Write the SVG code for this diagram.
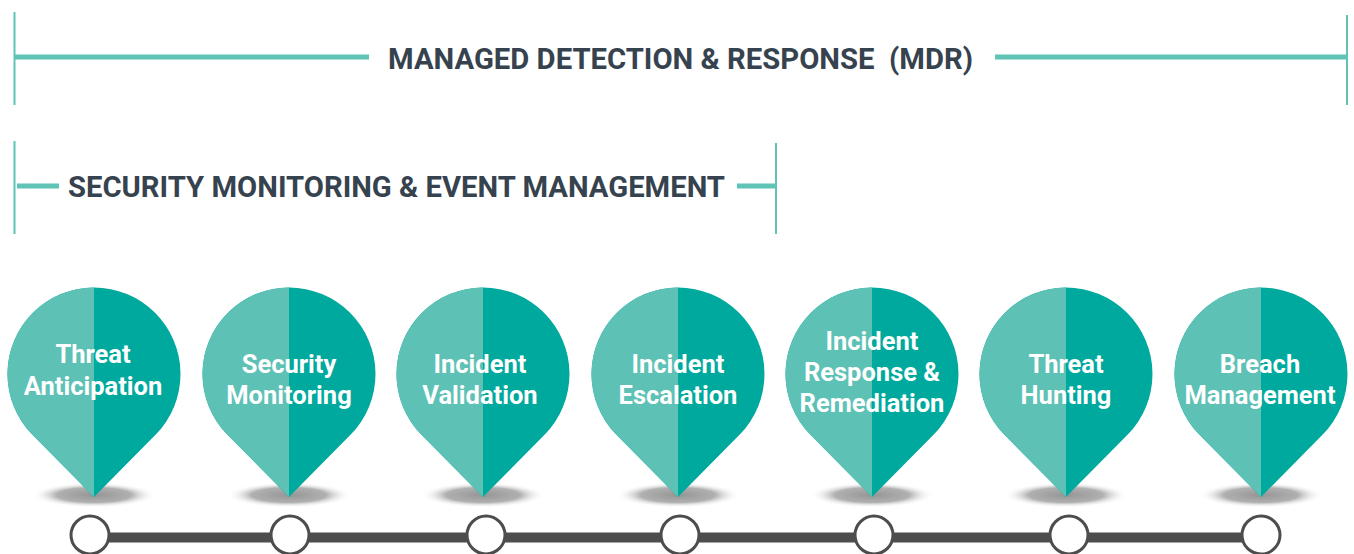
<svg xmlns="http://www.w3.org/2000/svg" xmlns:xlink="http://www.w3.org/1999/xlink" width="1354" height="554" viewBox="0 0 1354 554">
<style>
  .bracket { stroke: #5fc3b6; fill: none; }
  .title { font-family: Roboto, "Liberation Sans", sans-serif; font-weight: 700; font-size: 30px; fill: #36434f; }
  .lbl { font-family: Roboto, "Liberation Sans", sans-serif; font-weight: 700; font-size: 25.5px; fill: #ffffff; text-anchor: middle; }
  .dark { fill: #00a99d; }
  .light { fill: #5ec1b5; }
  .stop { fill: #ffffff; stroke: #4d4d4d; stroke-width: 3; }
</style>
<defs>
  <path id="pin" d="M0,123 L-61.5,60.8 A86.5 86.5 0 1 1 61.5,60.8 Z"/>
  <clipPath id="leftHalf"><rect x="-100" y="-100" width="100" height="250"/></clipPath>
  <radialGradient id="shadow" cx="0.5" cy="0.5" r="0.5">
    <stop offset="0" stop-color="#959595"/>
    <stop offset="0.6" stop-color="#b0b0b0"/>
    <stop offset="1" stop-color="#ffffff" stop-opacity="0"/>
  </radialGradient>
</defs>
<rect width="1354" height="554" fill="#ffffff"/>

<g id="mdr-bracket">
  <line class="bracket" x1="14.5" y1="12" x2="14.5" y2="105" stroke-width="2"/>
  <line class="bracket" x1="15" y1="57" x2="369" y2="57" stroke-width="5"/>
  <line class="bracket" x1="995" y1="57" x2="1347" y2="57" stroke-width="5"/>
  <line class="bracket" x1="1347" y1="15" x2="1347" y2="105" stroke-width="2"/>
  <text class="title" x="388" y="69" xml:space="preserve" textLength="585" lengthAdjust="spacingAndGlyphs">MANAGED DETECTION &amp; RESPONSE  (MDR)</text>
</g>

<g id="smem-bracket">
  <line class="bracket" x1="14.5" y1="141" x2="14.5" y2="234" stroke-width="2"/>
  <line class="bracket" x1="17" y1="186" x2="59" y2="186" stroke-width="5"/>
  <line class="bracket" x1="737" y1="186" x2="775" y2="186" stroke-width="5"/>
  <line class="bracket" x1="776" y1="143" x2="776" y2="234" stroke-width="2"/>
  <text class="title" x="68" y="197" textLength="657" lengthAdjust="spacingAndGlyphs">SECURITY MONITORING &amp; EVENT MANAGEMENT</text>
</g>

<g id="connectors">
  <line x1="90" y1="537.5" x2="1261" y2="537.5" stroke="#4d4d4d" stroke-width="10"/>
  <circle class="stop" cx="90" cy="535" r="19"/>
  <circle class="stop" cx="290" cy="535" r="19"/>
  <circle class="stop" cx="486" cy="535" r="19"/>
  <circle class="stop" cx="680" cy="535" r="19"/>
  <circle class="stop" cx="874" cy="535" r="19"/>
  <circle class="stop" cx="1069" cy="535" r="19"/>
  <circle class="stop" cx="1261" cy="535" r="19"/>
</g>

<g id="node-threat-anticipation" transform="translate(94,374)">
  <ellipse cx="0" cy="121" rx="62" ry="12.5" fill="url(#shadow)"/>
  <use xlink:href="#pin" class="dark"/>
  <use xlink:href="#pin" class="light" clip-path="url(#leftHalf)"/>
  <text class="lbl" x="-1" y="-11">Threat</text>
  <text class="lbl" x="-1" y="21">Anticipation</text>
</g>

<g id="node-security-monitoring" transform="translate(289,374)">
  <ellipse cx="0" cy="121" rx="62" ry="12.5" fill="url(#shadow)"/>
  <use xlink:href="#pin" class="dark"/>
  <use xlink:href="#pin" class="light" clip-path="url(#leftHalf)"/>
  <text class="lbl" x="0" y="-1">Security</text>
  <text class="lbl" x="0" y="30">Monitoring</text>
</g>

<g id="node-incident-validation" transform="translate(483,374)">
  <ellipse cx="0" cy="121" rx="62" ry="12.5" fill="url(#shadow)"/>
  <use xlink:href="#pin" class="dark"/>
  <use xlink:href="#pin" class="light" clip-path="url(#leftHalf)"/>
  <text class="lbl" x="-3" y="-1">Incident</text>
  <text class="lbl" x="-3" y="30">Validation</text>
</g>

<g id="node-incident-escalation" transform="translate(678,374)">
  <ellipse cx="0" cy="121" rx="62" ry="12.5" fill="url(#shadow)"/>
  <use xlink:href="#pin" class="dark"/>
  <use xlink:href="#pin" class="light" clip-path="url(#leftHalf)"/>
  <text class="lbl" x="0" y="-1">Incident</text>
  <text class="lbl" x="0" y="30">Escalation</text>
</g>

<g id="node-incident-response" transform="translate(872,374)">
  <ellipse cx="0" cy="121" rx="62" ry="12.5" fill="url(#shadow)"/>
  <use xlink:href="#pin" class="dark"/>
  <use xlink:href="#pin" class="light" clip-path="url(#leftHalf)"/>
  <text class="lbl" x="0" y="-24">Incident</text>
  <text class="lbl" x="0" y="7">Response &amp;</text>
  <text class="lbl" x="0" y="38">Remediation</text>
</g>

<g id="node-threat-hunting" transform="translate(1066,374)">
  <ellipse cx="0" cy="121" rx="62" ry="12.5" fill="url(#shadow)"/>
  <use xlink:href="#pin" class="dark"/>
  <use xlink:href="#pin" class="light" clip-path="url(#leftHalf)"/>
  <text class="lbl" x="0" y="-1">Threat</text>
  <text class="lbl" x="0" y="30">Hunting</text>
</g>

<g id="node-breach-management" transform="translate(1261,374)">
  <ellipse cx="0" cy="121" rx="62" ry="12.5" fill="url(#shadow)"/>
  <use xlink:href="#pin" class="dark"/>
  <use xlink:href="#pin" class="light" clip-path="url(#leftHalf)"/>
  <text class="lbl" x="-1" y="-1">Breach</text>
  <text class="lbl" x="-1" y="30">Management</text>
</g>
</svg>
